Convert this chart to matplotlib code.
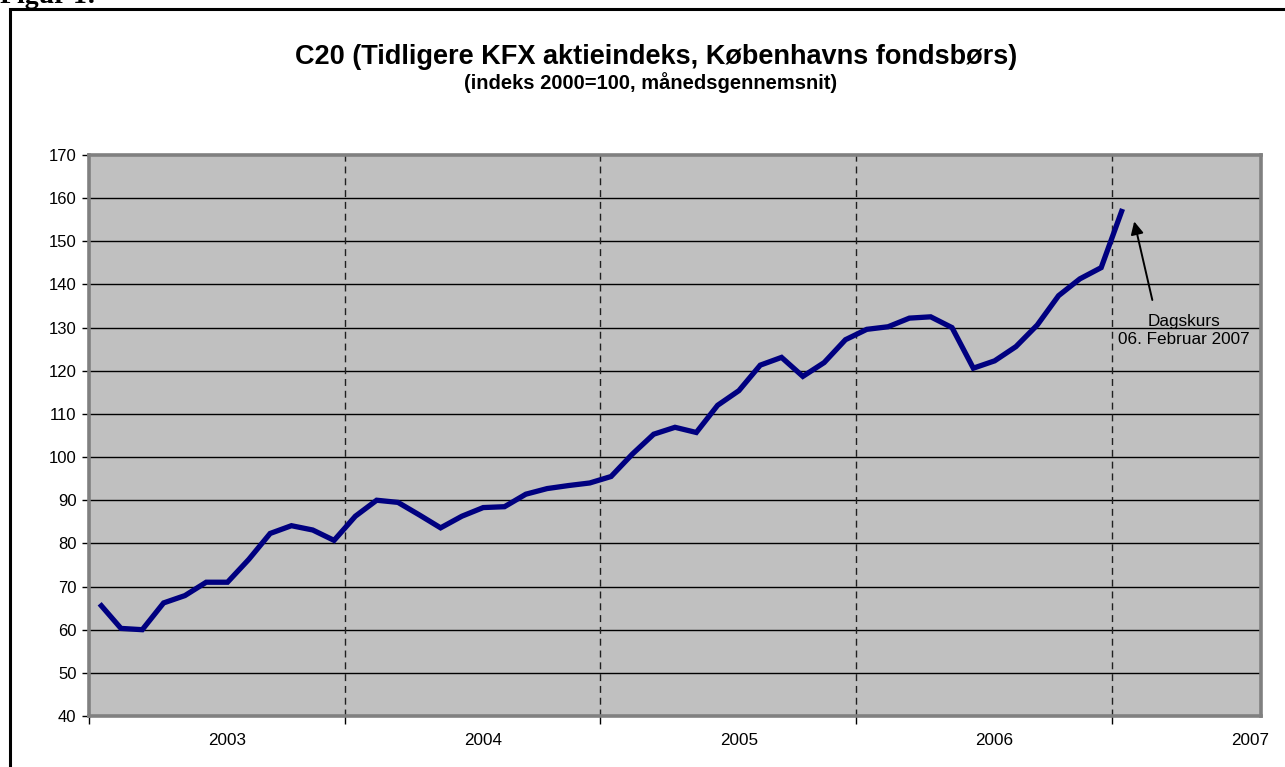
import matplotlib
matplotlib.use("Agg")
import matplotlib.pyplot as plt
from matplotlib.patches import Rectangle
import numpy as np

# ---- data: monthly average index (2000=100), Jan 2003 .. Jan 2007 ----
months = [f"{y}-{m:02d}" for y in range(2003, 2008) for m in range(1, 13)][:49]
values = [66.0, 60.3, 60.0, 66.2, 67.9, 71.0, 71.0, 76.3, 82.3, 84.1, 83.1, 80.7,
          86.3, 90.0, 89.5, 86.6, 83.6, 86.3, 88.3, 88.5, 91.4, 92.7, 93.4, 94.0,
          95.5, 100.7, 105.3, 106.9, 105.7, 112.0, 115.4, 121.3, 123.1, 118.7, 121.9, 127.2,
          129.6, 130.2, 132.2, 132.5, 130.0, 120.6, 122.3, 125.6, 130.6, 137.4, 141.3, 143.9,
          157.5]
year_labels = ["2003", "2004", "2005", "2006", "2007"]
y_ticks = list(range(40, 171, 10))
n_categories = 55  # Jan 2003 .. Jul 2007 on the category axis

title = "C20 (Tidligere KFX aktieindeks, Københavns fondsbørs)"
subtitle = "(indeks 2000=100, månedsgennemsnit)"
note = "Dagskurs\n06. Februar 2007"

plt.rcParams['font.family'] = ['Liberation Sans', 'DejaVu Sans']

W, H = 1285, 767
fig = plt.figure(figsize=(W / 100, H / 100), dpi=100)
fig.patch.set_facecolor("white")

# outer frame (cut off at right and bottom)
fig.add_artist(Rectangle((10 / W, -0.05), 1.2, 1.05 - 9 / H, transform=fig.transFigure,
                         fill=False, edgecolor="black", linewidth=2.2, clip_on=False))
fig.text(0 / W, 1 - 3 / H, "Figur 1:", family=["Liberation Serif", "DejaVu Serif"],
         fontsize=20, fontweight="bold", ha="left", va="baseline")

left, right, top, bottom = 89, 1261, 155, 716
ax = fig.add_axes([left / W, 1 - bottom / H, (right - left) / W, (bottom - top) / H])
ax.set_facecolor("#C0C0C0")

x = np.arange(len(values))
ax.plot(x, values, color="#000080", linewidth=3.8, solid_joinstyle="miter",
        solid_capstyle="butt", zorder=3)

ax.set_xlim(-0.5, n_categories - 0.5)
ax.set_ylim(40, 170)
ax.set_yticks(y_ticks)
for yv in y_ticks[1:-1]:
    ax.axhline(yv, color="black", linewidth=1.0, zorder=1)

bounds = [11.5, 23.5, 35.5, 47.5]
for b in bounds:
    ax.axvline(b, color="#202020", linewidth=1.0, linestyle=(0, (5, 3.5)), zorder=1)

ax.set_xticks([6 + 12 * i for i in range(len(year_labels))])
ax.set_xticklabels(year_labels)
ax.set_xticks([-0.5] + bounds, minor=True)
ax.tick_params(axis="x", which="major", length=0, pad=12, labelsize=12.3)
ax.tick_params(axis="x", which="minor", length=6, width=1, color="black", direction="out")
ax.tick_params(axis="y", length=5, width=1, color="black", direction="out", pad=4, labelsize=12)

for s in ax.spines.values():
    s.set_color("#808080")
    s.set_linewidth(2.6)

# annotation for the daily quote
ax.annotate("", xy=(48.55, 154.6), xytext=(49.4, 136.4),
            arrowprops=dict(arrowstyle="-|>", color="black", lw=1.4, mutation_scale=19,
                            shrinkA=0, shrinkB=0))
ax.text(50.9, 129.3, note, ha="center", va="center", fontsize=12.3, linespacing=1.3)

fig.text(656 / W, 1 - 64 / H, title, ha="center", va="baseline", fontsize=19.5, fontweight="bold")
fig.text(651 / W, 1 - 89 / H, subtitle, ha="center", va="baseline", fontsize=14.5, fontweight="bold")

fig.savefig("out.png", dpi=100)
